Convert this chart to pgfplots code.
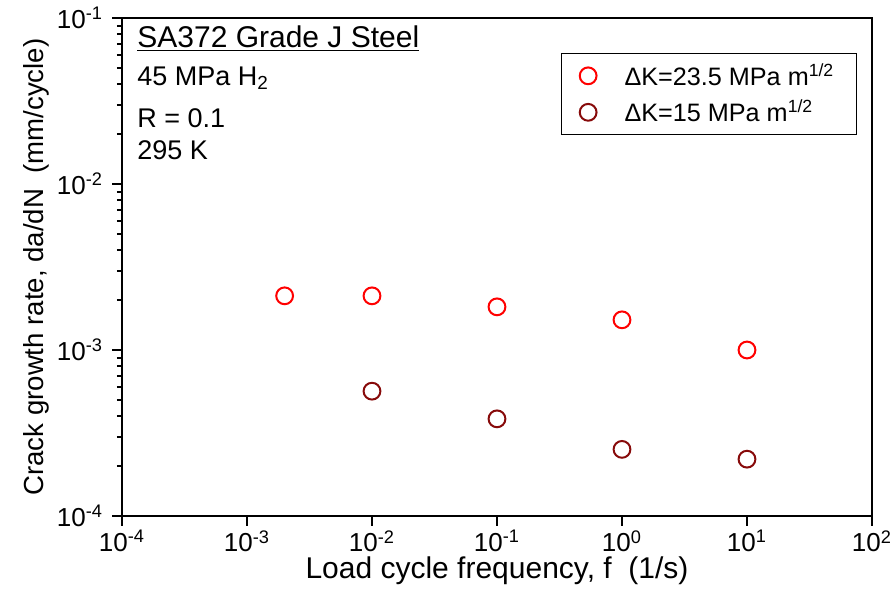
\documentclass[border=0pt]{standalone}
\usepackage{fontspec}
\setmainfont{Liberation Sans}
\usepackage{pgfplots}
\pgfplotsset{compat=1.18}
\definecolor{cred}{RGB}{255,0,0}
\definecolor{cdark}{RGB}{135,10,10}
\begin{document}
\begin{tikzpicture}
\useasboundingbox (0,0) rectangle (447.5pt,300pt);
\begin{axis}[
  at={(61pt,42pt)}, anchor=south west,
  scale only axis, width=375pt, height=249pt,
  xmode=log, ymode=log,
  xmin=1e-4, xmax=1e2, ymin=1e-4, ymax=1e-1,
  axis line style={line width=1.1pt},
  tick style={line width=1pt, black},
  tick align=outside, tick pos=left,
  major tick length=5pt, minor tick length=2.5pt,
  xtick={1e-4,1e-3,1e-2,1e-1,1,10,100},
  xticklabels={10\textsuperscript{-4},10\textsuperscript{-3},10\textsuperscript{-2},10\textsuperscript{-1},10\textsuperscript{0},10\textsuperscript{1},10\textsuperscript{2}},
  xminorticks=false,
  ytick={1e-4,1e-3,1e-2,1e-1},
  yticklabels={10\textsuperscript{-4},10\textsuperscript{-3},10\textsuperscript{-2},10\textsuperscript{-1}},
  tick label style={font=\fontsize{13}{14}\selectfont},
  xticklabel style={yshift=-1pt, inner ysep=1pt},
  yticklabel style={xshift=-1pt},
  xlabel={Load cycle frequency, f\ \ (1/s)},
  ylabel={Crack growth rate, da/dN\ \ (mm/cycle)},
  xlabel style={font=\fontsize{15}{16}\selectfont, yshift=0pt, inner ysep=1pt},
  ylabel style={font=\fontsize{13.8}{15}\selectfont, yshift=-3pt},
  legend style={at={(0.98,0.93)}, anchor=north east, draw=black, line width=0.7pt,
    font=\fontsize{12.6}{15}\selectfont, row sep=2pt, inner xsep=9pt, inner ysep=3pt,
    cells={anchor=west}},
  legend cell align=left,
  legend image code/.code={\draw[mark repeat=2,mark phase=2] plot coordinates {(0cm,0cm) (0.2cm,0cm) (0.4cm,0cm)};},
]
\addplot[only marks, mark=o, mark size=4.2pt, draw=cred, line width=1pt] coordinates {
 (2e-3,2.12e-3) (1e-2,2.12e-3) (1e-1,1.82e-3) (1,1.52e-3) (10,1.0e-3)};
\addlegendentry{\hspace{12pt}ΔK=23.5 MPa m\textsuperscript{1/2}\hspace{6pt}}
\addplot[only marks, mark=o, mark size=4.2pt, draw=cdark, line width=1pt] coordinates {
 (1e-2,5.65e-4) (1e-1,3.85e-4) (1,2.52e-4) (10,2.2e-4)};
\addlegendentry{\hspace{12pt}ΔK=15 MPa m\textsuperscript{1/2}}
\end{axis}
\node[anchor=west, inner sep=0pt, font=\fontsize{15}{16}\selectfont] at (68.5pt,280.5pt) {\underline{SA372 Grade J Steel}};
\node[anchor=west, inner sep=0pt, font=\fontsize{13.5}{15}\selectfont] at (68.5pt,261pt) {45 MPa H\textsubscript{2}};
\node[anchor=west, inner sep=0pt, font=\fontsize{13.5}{15}\selectfont] at (68.5pt,241pt) {R = 0.1};
\node[anchor=west, inner sep=0pt, font=\fontsize{13.5}{15}\selectfont] at (68.5pt,225pt) {295 K};
\end{tikzpicture}
\end{document}
